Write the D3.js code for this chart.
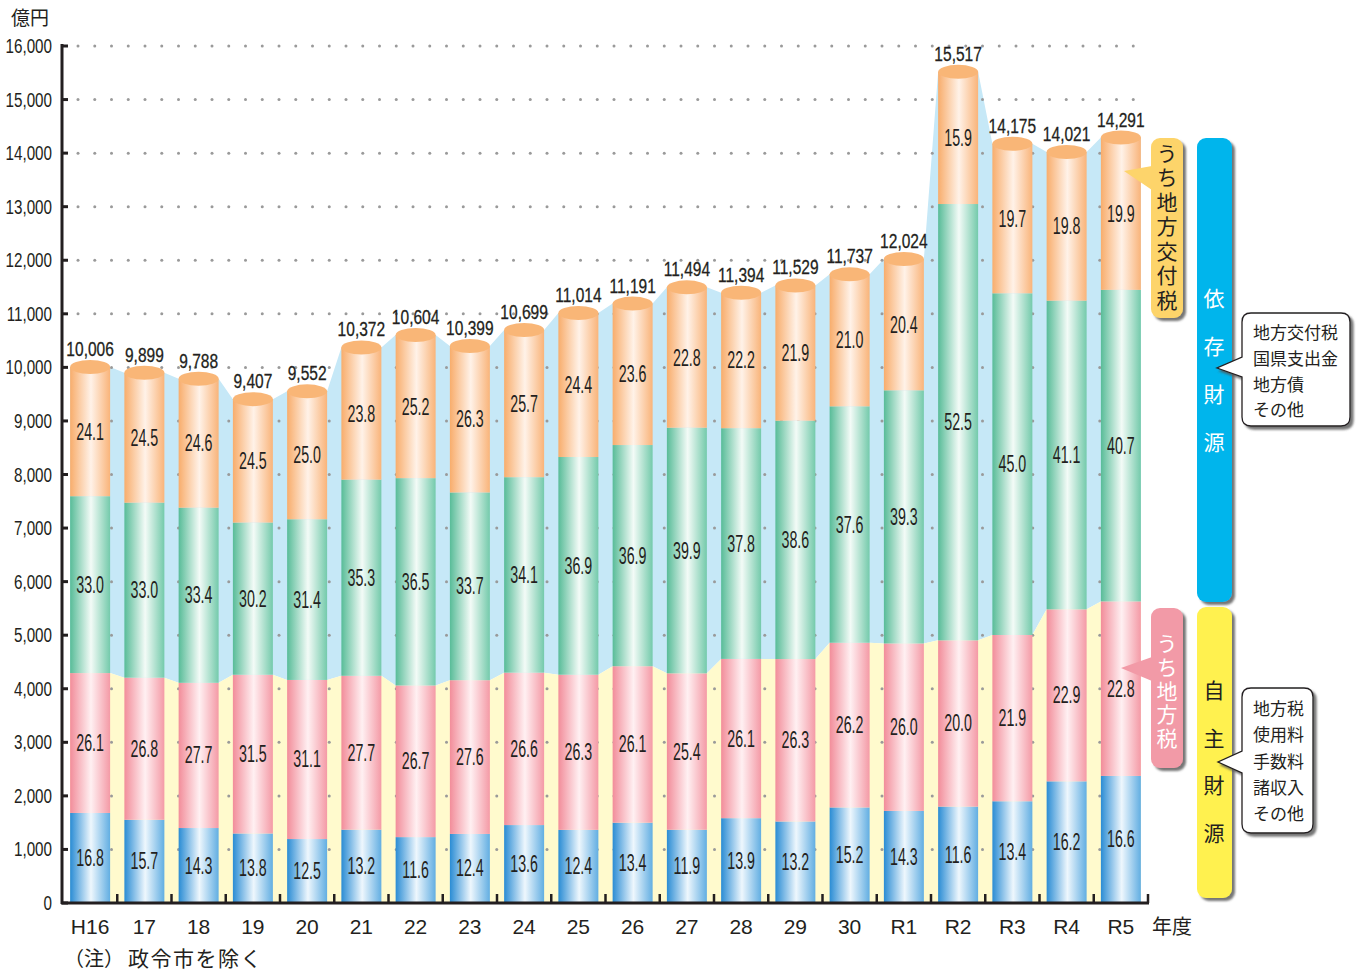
<!DOCTYPE html>
<html><head><meta charset="utf-8">
<script src="https://cdn.jsdelivr.net/npm/d3@7"></script>
<style>
html,body{margin:0;padding:0;background:#fff;}
svg{display:block;}
.num{font-family:"Liberation Sans",Arial,sans-serif;}
.jp{font-family:"Noto Sans CJK JP",sans-serif;}
</style></head>
<body>
<svg id="chart" width="1359" height="971"></svg>
<script>
const years = ["H16","17","18","19","20","21","22","23","24","25","26","27","28","29","30","R1","R2","R3","R4","R5"];
const totals = [10006,9899,9788,9407,9552,10372,10604,10399,10699,11014,11191,11494,11394,11529,11737,12024,15517,14175,14021,14291];
const pctOther = [16.8,15.7,14.3,13.8,12.5,13.2,11.6,12.4,13.6,12.4,13.4,11.9,13.9,13.2,15.2,14.3,11.6,13.4,16.2,16.6];
const pctLocalTax = [26.1,26.8,27.7,31.5,31.1,27.7,26.7,27.6,26.6,26.3,26.1,25.4,26.1,26.3,26.2,26.0,20.0,21.9,22.9,22.8];
const pctDepOther = [33.0,33.0,33.4,30.2,31.4,35.3,36.5,33.7,34.1,36.9,36.9,39.9,37.8,38.6,37.6,39.3,52.5,45.0,41.1,40.7];
const pctGrant = [24.1,24.5,24.6,24.5,25.0,23.8,25.2,26.3,25.7,24.4,23.6,22.8,22.2,21.9,21.0,20.4,15.9,19.7,19.8,19.9];
const yTicks = [0,1000,2000,3000,4000,5000,6000,7000,8000,9000,10000,11000,12000,13000,14000,15000,16000];

const svg = d3.select("#chart");
const defs = svg.append("defs");
const x = d3.scaleBand().domain(years).range([63,1148]).paddingInner(0.263).paddingOuter(0.1315);
const y = d3.scaleLinear().domain([0,16000]).range([903,46]);
const bw = x.bandwidth();

const segCols = [
  {id:"gBlue", a:"#2a8cd4", b:"#eef7fd", c:"#62aee2"},
  {id:"gPink", a:"#f28d9a", b:"#fff0f2", c:"#f49aa6"},
  {id:"gGreen", a:"#58bc98", b:"#f3fbf7", c:"#74caab"},
  {id:"gOrange", a:"#f8ad6c", b:"#fff2e8", c:"#f9b47a"}
];
segCols.forEach(s=>{
  const g = defs.append("linearGradient").attr("id",s.id).attr("x1","0").attr("x2","1").attr("y1","0").attr("y2","0");
  g.append("stop").attr("offset","0%").attr("stop-color",s.a);
  g.append("stop").attr("offset","52%").attr("stop-color",s.b);
  g.append("stop").attr("offset","100%").attr("stop-color",s.c);
});
const sh = defs.append("filter").attr("id","shadow").attr("x","-20%").attr("y","-20%").attr("width","150%").attr("height","150%");
sh.append("feDropShadow").attr("dx",3).attr("dy",3).attr("stdDeviation",0.8).attr("flood-color","#555").attr("flood-opacity",0.8);

function ntext(parent, tx, ty, str, size, sx, anchor){
  return parent.append("text").attr("class","num")
    .attr("transform",`translate(${tx},${ty}) scale(${sx},1)`)
    .attr("text-anchor",anchor).attr("font-size",size).attr("fill","#231f20").text(str);
}

const data = years.map((yr,i)=>{
  const t = totals[i];
  const v0 = t*pctOther[i]/100;
  const v1 = v0 + t*pctLocalTax[i]/100;
  const v2 = v1 + t*pctDepOther[i]/100;
  return {yr, t, bounds:[0,v0,v1,v2,t], pcts:[pctOther[i],pctLocalTax[i],pctDepOther[i],pctGrant[i]]};
});

// background bands
const topPts = [], midPts = [];
data.forEach(d=>{
  const x0 = x(d.yr), x1 = x(d.yr)+bw;
  topPts.push([x0,y(d.t)],[x1,y(d.t)]);
  midPts.push([x0,y(d.bounds[2])],[x1,y(d.bounds[2])]);
});
const line = d3.line();
const xa = x(years[0]), xb = x(years[years.length-1])+bw;
svg.append("path").attr("d", line([...topPts, ...midPts.slice().reverse()])+"Z").attr("fill","#c6e8f7");
svg.append("path").attr("d", line([[xa,y(0)], ...midPts, [xb,y(0)]])+"Z").attr("fill","#fffacd");

// dotted gridlines
const gx = d3.range(78, 1148, 16.75);
yTicks.filter(v=>v>0).forEach(v=>{
  svg.append("g").selectAll("circle").data(gx).join("circle")
    .attr("cx",d=>d).attr("cy",y(v)).attr("r",1.5).attr("fill","#9a9a9a");
});

// bars
const fills = ["url(#gBlue)","url(#gPink)","url(#gGreen)","url(#gOrange)"];
const bars = svg.append("g");
data.forEach(d=>{
  const g = bars.append("g");
  for(let k=0;k<4;k++){
    g.append("rect").attr("x",x(d.yr)).attr("width",bw)
      .attr("y",y(d.bounds[k+1])).attr("height",y(d.bounds[k])-y(d.bounds[k+1]))
      .attr("fill",fills[k]);
  }
  g.append("ellipse").attr("cx",x(d.yr)+bw/2).attr("cy",y(d.t)).attr("rx",bw/2).attr("ry",7).attr("fill","#f9b677");
  for(let k=0;k<4;k++){
    ntext(g, x(d.yr)+bw/2, (y(d.bounds[k])+y(d.bounds[k+1]))/2+8, d.pcts[k].toFixed(1), 23, 0.62, "middle");
  }
  ntext(g, x(d.yr)+bw/2, y(d.t)-11, d3.format(",")(d.t), 21, 0.74, "middle")
    .attr("stroke","#231f20").attr("stroke-width",0.3);
});

// axes
const axG = svg.append("g");
axG.append("line").attr("x1",62).attr("x2",62).attr("y1",44).attr("y2",904).attr("stroke","#231f20").attr("stroke-width",3);
axG.append("line").attr("x1",61).attr("x2",1149).attr("y1",903).attr("y2",903).attr("stroke","#231f20").attr("stroke-width",3);
yTicks.forEach(v=>{
  axG.append("line").attr("x1",62).attr("x2",68).attr("y1",y(v)).attr("y2",y(v)).attr("stroke","#231f20").attr("stroke-width",3);
  ntext(axG, 52, y(v)+7, v===0?"0":d3.format(",")(v), 19.5, 0.78, "end");
});
years.forEach(yr=>{
  const bx = x(yr)+x.step()-x.step()*x.paddingInner()/2;
  axG.append("line").attr("x1",bx).attr("x2",bx).attr("y1",903).attr("y2",894).attr("stroke","#231f20").attr("stroke-width",2.5);
  axG.append("text").attr("x",x(yr)+bw/2).attr("y",934).attr("text-anchor","middle")
    .attr("font-family","Liberation Sans, sans-serif").attr("font-size",21).attr("fill","#231f20").text(yr);
});
svg.append("text").attr("class","jp").attr("x",1152).attr("y",934).attr("font-size",20).attr("fill","#231f20").text("年度");
svg.append("text").attr("class","jp").attr("x",11).attr("y",25).attr("font-size",19).attr("fill","#231f20").text("億円");
svg.append("text").attr("class","jp").attr("x",64).attr("y",966).attr("font-size",20).attr("fill","#231f20").text("（注）");
svg.append("text").attr("class","jp").attr("x",128).attr("y",966).attr("font-size",21).attr("letter-spacing",1.5).attr("fill","#231f20").text("政令市を除く");

// legend boxes
function vbox(x0,y0,w,h,fill){
  svg.append("rect").attr("x",x0).attr("y",y0).attr("width",w).attr("height",h).attr("rx",9)
    .attr("fill",fill).attr("filter","url(#shadow)");
}
function vtext(cx, y0, str, color, size, spacing){
  svg.append("text").attr("class","jp").attr("x",cx).attr("y",y0)
    .attr("writing-mode","vertical-rl").attr("text-anchor","start")
    .attr("font-size",size).attr("letter-spacing",spacing).attr("fill",color).text(str);
}
// pointers for small boxes
svg.append("path").attr("d","M1152,166 L1124,171 L1152,190 Z").attr("fill","#fdd46b");
vbox(1151,138,32,180,"#fdd46b");
svg.append("path").attr("d","M1152,657 L1121,668 L1152,681 Z").attr("fill","#f29aa7");
vbox(1151,608,32,160,"#f29aa7");
vtext(1167,142.5,"うち地方交付税","#231f20",21,3.5);
vtext(1167,632.5,"うち地方税","#ffffff",21,2.8);

vbox(1197,138,35,464,"#00b5ec");
vbox(1197,607,35,291,"#fff150");
vtext(1214,287.5,"依存財源","#ffffff",21,27);
vtext(1214,679.5,"自主財源","#231f20",21,26.7);

function callout(x0,y0,w,h,tipX,tipY,b0,b1,lines,ly){
  const r=9;
  const p = `M${x0+r},${y0} H${x0+w-r} Q${x0+w},${y0} ${x0+w},${y0+r} V${y0+h-r} Q${x0+w},${y0+h} ${x0+w-r},${y0+h} H${x0+r} Q${x0},${y0+h} ${x0},${y0+h-r} V${b1} L${tipX},${tipY} L${x0},${b0} V${y0+r} Q${x0},${y0} ${x0+r},${y0} Z`;
  svg.append("path").attr("d",p).attr("fill","#fff").attr("stroke","#231f20").attr("stroke-width",1.3).attr("filter","url(#shadow)");
  lines.forEach((t,i)=>{
    svg.append("text").attr("class","jp").attr("x",x0+11).attr("y",ly[i]).attr("dominant-baseline","central")
      .attr("font-size",17).attr("fill","#231f20").text(t);
  });
}
callout(1242,313,108,113,1217,368,357,377,["地方交付税","国県支出金","地方債","その他"],[331,357,383,408]);
callout(1242,688,71,145,1218,762,751,773,["地方税","使用料","手数料","諸収入","その他"],[707,733,760,786,812]);
</script>
</body></html>
